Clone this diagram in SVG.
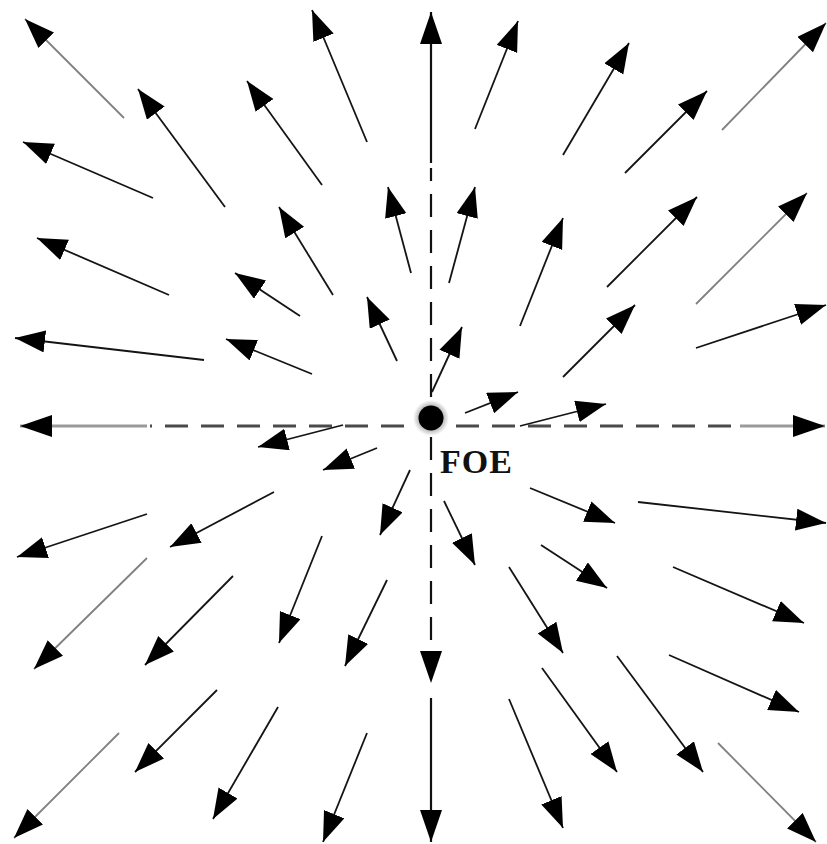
<svg xmlns="http://www.w3.org/2000/svg" width="827" height="844" viewBox="0 0 827 844">
<style>
.a{stroke:#141414;stroke-width:1.8;fill:none;marker-end:url(#h)}
.g{stroke:#808080}
.ax{stroke:#111;stroke-width:2.2;fill:none}
.d{stroke-dasharray:23 13}
.hx{stroke:#4a4a4a;stroke-width:3}
.t{font-family:"Liberation Serif","Times New Roman",serif;font-weight:bold;font-size:34px;letter-spacing:1px;fill:#111}
</style>
<defs>
<marker id="h" markerUnits="userSpaceOnUse" markerWidth="31" markerHeight="23" refX="30" refY="11" orient="auto">
<path d="M0,0 L30,11 L0,22 z" fill="#000"/>
</marker>
<marker id="H" markerUnits="userSpaceOnUse" markerWidth="33" markerHeight="23" refX="32" refY="11" orient="auto">
<path d="M0,0 L32,11 L0,22 z" fill="#000"/>
</marker>
<radialGradient id="glow">
<stop offset="0.55" stop-color="#000"/>
<stop offset="0.7" stop-color="#000" stop-opacity="0.25"/>
<stop offset="1" stop-color="#000" stop-opacity="0"/>
</radialGradient>
</defs>
<g id="axes">
<line class="hx" x1="147" y1="426" x2="20" y2="426" style="stroke:#9a9a9a" marker-end="url(#H)"/>
<line class="hx d" x1="404" y1="426" x2="150" y2="426"/>
<line class="hx d" x1="456" y1="426" x2="740" y2="426"/>
<line class="hx" x1="740" y1="426" x2="825" y2="426" style="stroke:#9a9a9a" marker-end="url(#H)"/>
<line class="ax" x1="431" y1="163" x2="431" y2="12" marker-end="url(#H)"/>
<line class="ax d" x1="431" y1="397" x2="431" y2="168"/>
<line class="ax d" x1="431" y1="437" x2="431" y2="683" marker-end="url(#H)"/>
<line class="ax" x1="431" y1="698" x2="431" y2="842" marker-end="url(#H)"/>
</g>
<g id="FOE">
<circle cx="431" cy="418" r="18" fill="url(#glow)"/>
<circle cx="431" cy="418" r="12.5" fill="#000"/>
<text class="t" x="440" y="473">FOE</text>
</g>
<g id="connectors">
<line class="a g" x1="124" y1="118" x2="25" y2="19"/>
<line class="a" x1="225" y1="207" x2="138" y2="89"/>
<line class="a" x1="322" y1="185" x2="247" y2="81"/>
<line class="a" x1="367" y1="142" x2="312" y2="10"/>
<line class="a" x1="153" y1="198" x2="23" y2="142"/>
<line class="a" x1="169" y1="295" x2="37" y2="238"/>
<line class="a" x1="333" y1="295" x2="279" y2="207"/>
<line class="a" x1="411" y1="273" x2="388" y2="187"/>
<line class="a" x1="300" y1="316" x2="235" y2="273"/>
<line class="a" x1="397" y1="361" x2="367" y2="297"/>
<line class="a" x1="204" y1="360" x2="15" y2="338"/>
<line class="a" x1="312" y1="374" x2="226" y2="339"/>
<line class="a" x1="475" y1="129" x2="518" y2="21"/>
<line class="a" x1="563" y1="155" x2="629" y2="43"/>
<line class="a" x1="625" y1="173" x2="707" y2="91"/>
<line class="a g" x1="722" y1="130" x2="826" y2="23"/>
<line class="a" x1="449" y1="283" x2="475" y2="187"/>
<line class="a" x1="520" y1="326" x2="563" y2="218"/>
<line class="a" x1="607" y1="287" x2="697" y2="197"/>
<line class="a g" x1="696" y1="304" x2="807" y2="193"/>
<line class="a" x1="432" y1="392" x2="462" y2="327"/>
<line class="a" x1="563" y1="377" x2="635" y2="305"/>
<line class="a" x1="696" y1="348" x2="826" y2="305"/>
<line class="a" x1="465" y1="413" x2="518" y2="392"/>
<line class="a" x1="520" y1="426" x2="606" y2="404"/>
<line class="a" x1="343" y1="425" x2="258" y2="447"/>
<line class="a" x1="377" y1="448" x2="323" y2="470"/>
<line class="a" x1="147" y1="514" x2="17" y2="557"/>
<line class="a" x1="274" y1="492" x2="170" y2="547"/>
<line class="a" x1="410" y1="470" x2="380" y2="535"/>
<line class="a g" x1="147" y1="558" x2="34" y2="669"/>
<line class="a" x1="233" y1="576" x2="145" y2="665"/>
<line class="a" x1="322" y1="536" x2="279" y2="643"/>
<line class="a" x1="387" y1="580" x2="345" y2="666"/>
<line class="a g" x1="119" y1="733" x2="14" y2="838"/>
<line class="a" x1="217" y1="690" x2="135" y2="772"/>
<line class="a" x1="278" y1="707" x2="213" y2="819"/>
<line class="a" x1="367" y1="733" x2="323" y2="842"/>
<line class="a" x1="444" y1="501" x2="475" y2="565"/>
<line class="a" x1="530" y1="488" x2="615" y2="523"/>
<line class="a" x1="638" y1="502" x2="826" y2="523"/>
<line class="a" x1="541" y1="545" x2="607" y2="588"/>
<line class="a" x1="673" y1="567" x2="804" y2="623"/>
<line class="a" x1="509" y1="567" x2="563" y2="653"/>
<line class="a" x1="669" y1="655" x2="799" y2="712"/>
<line class="a" x1="542" y1="668" x2="617" y2="772"/>
<line class="a" x1="617" y1="656" x2="703" y2="772"/>
<line class="a" x1="509" y1="699" x2="563" y2="828"/>
<line class="a g" x1="718" y1="743" x2="816" y2="842"/>
</g>
</svg>
